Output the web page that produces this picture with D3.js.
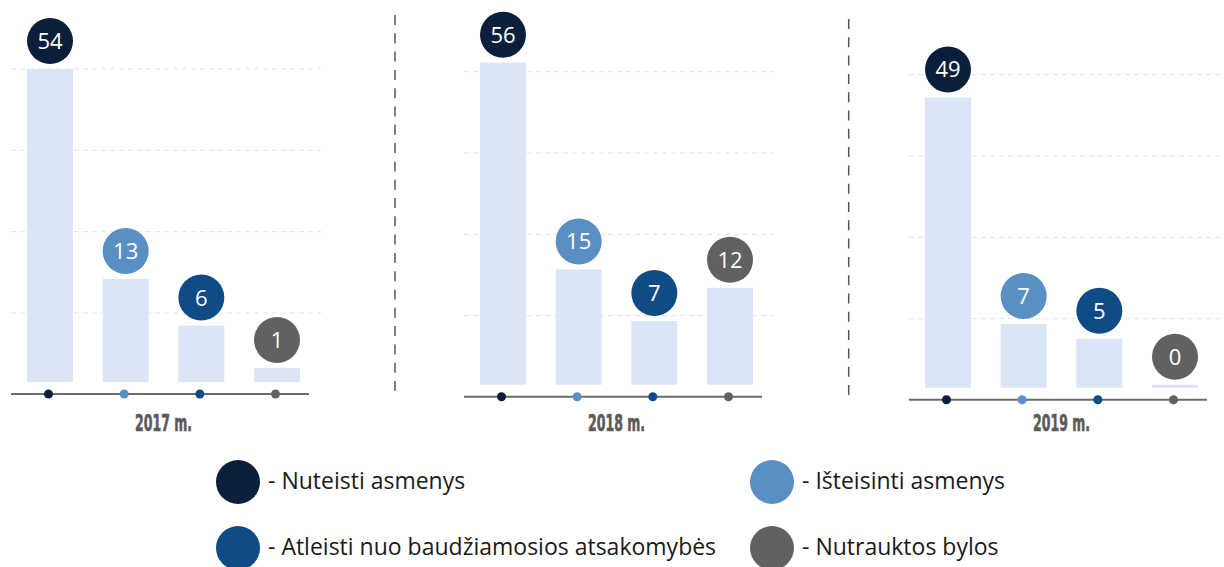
<!DOCTYPE html>
<html>
<head>
<meta charset="utf-8">
<script src="https://cdnjs.cloudflare.com/ajax/libs/d3/7.8.5/d3.min.js"></script>
<style>
  html, body { margin: 0; padding: 0; background: #fff; }
  svg { display: block; }
</style>
</head>
<body>
<svg id="chart" width="1224" height="567"></svg>
<script>
'use strict';

// data
var years = ['2017 m.', '2018 m.', '2019 m.'];
var categories = ['Nuteisti asmenys', 'Išteisinti asmenys', 'Atleisti nuo baudžiamosios atsakomybės', 'Nutrauktos bylos'];
var values2017 = [54, 13, 6, 1];
var values2018 = [56, 15, 7, 12];
var values2019 = [49, 7, 5, 0];
var colors = ['#0c1f3a', '#5a8fc4', '#0f4c85', '#606261'];

var series = [values2017, values2018, values2019];

var svg = d3.select('#chart');

// panel layout
var panelX = [11, 464, 909],
    panelBottom = [382, 384.7, 387.7],
    panelW = 298,
    labelY = 431;

var x = d3.scaleBand()
    .domain(categories)
    .range([16, 289])
    .paddingInner(0.392)
    .paddingOuter(0);

// bars in the source are drawn on a compressed (power) scale
var h = d3.scalePow().exponent(0.78)
    .domain([0, 54])
    .range([0, 313]);

var grid = d3.scaleLinear().domain([1, 4]).range([69, 313]);

series.forEach(function (vals, p) {
  var bottom = panelBottom[p];
  var g = svg.append('g').attr('transform', 'translate(' + panelX[p] + ',0)');
  var gridRight = p === 2 ? 1224 - panelX[p] : panelW + 12;

  // gridlines
  g.selectAll('.grid')
      .data([1, 2, 3, 4])
      .enter().append('line')
      .attr('x1', 0).attr('x2', gridRight)
      .attr('y1', function (d) { return bottom - grid(d); })
      .attr('y2', function (d) { return bottom - grid(d); })
      .style('stroke', '#e2e2e2')
      .style('stroke-width', 1)
      .style('stroke-dasharray', '5,4');

  // bars
  g.selectAll('.bar')
      .data(vals)
      .enter().append('rect')
      .attr('x', function (d, i) { return x(categories[i]); })
      .attr('width', x.bandwidth())
      .attr('y', function (d) { return bottom - Math.max(3, h(d)); })
      .attr('height', function (d) { return Math.max(3, h(d)); })
      .style('fill', '#dae6f5');

  // value bubbles
  var b = g.selectAll('.bubble')
      .data(vals)
      .enter().append('g')
      .attr('transform', function (d, i) {
        return 'translate(' + (x(categories[i]) + x.bandwidth() / 2) + ',' + (bottom - Math.max(3, h(d)) - 28) + ')';
      });
  b.append('circle')
      .attr('r', 23)
      .style('fill', function (d, i) { return colors[i]; });
  b.append('text')
      .attr('dy', '0.36em')
      .style('text-anchor', 'middle')
      .style('fill', '#fff')
      .style('font-family', '"Open Sans", sans-serif')
      .style('font-size', '22px')
      .text(function (d) { return d; });

  // baseline with dots
  g.append('line')
      .attr('x1', 0).attr('x2', panelW)
      .attr('y1', bottom + 12).attr('y2', bottom + 12)
      .style('stroke', '#6b6b6b')
      .style('stroke-width', 2);

  g.selectAll('.dot')
      .data(vals)
      .enter().append('circle')
      .attr('cx', function (d, i) { return x(categories[i]) + x.bandwidth() / 2 - 1.5; })
      .attr('cy', bottom + 12)
      .attr('r', 4.5)
      .style('fill', function (d, i) { return colors[i]; });

  // year
  g.append('text')
      .attr('x', x(categories[1]) + x.bandwidth() + (x.step() - x.bandwidth()) / 2)
      .attr('y', labelY)
      .attr('textLength', 57)
      .attr('lengthAdjust', 'spacingAndGlyphs')
      .style('text-anchor', 'middle')
      .style('font-family', '"Liberation Sans Narrow", "DejaVu Sans Condensed", sans-serif')
      .style('font-weight', 'bold')
      .style('font-size', '23px')
      .style('fill', '#5a5a5a')
      .style('stroke', '#5a5a5a')
      .style('stroke-width', 0.6)
      .text(years[p]);
});

// dashed separators
[[395, 15, 395], [848.7, 19, 398]].forEach(function (s) {
  svg.append('line')
      .attr('x1', s[0]).attr('x2', s[0])
      .attr('y1', s[1]).attr('y2', s[2])
      .style('stroke', '#555')
      .style('stroke-width', 1.5)
      .style('stroke-dasharray', '10,8.3');
});

// legend
var legendX = [238, 772], legendY = [482, 548];
var leg = svg.selectAll('.legend')
    .data(categories)
    .enter().append('g')
    .attr('transform', function (d, i) {
      return 'translate(' + legendX[i % 2] + ',' + legendY[Math.floor(i / 2)] + ')';
    });
leg.append('circle')
    .attr('r', 22)
    .style('fill', function (d, i) { return colors[i]; });
leg.append('text')
    .attr('x', 30)
    .attr('y', 7)
    .style('font-family', '"Open Sans", sans-serif')
    .style('font-size', '23px')
    .style('fill', '#1a1a1a')
    .text(function (d) { return '- ' + d; });
</script>
</body>
</html>
